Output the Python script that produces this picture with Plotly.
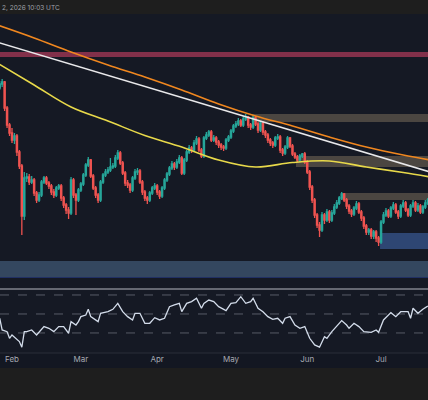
import pandas as pd
import plotly.graph_objects as go

# daily candles, first one on 2026-01-26
start = pd.Timestamp("2026-01-26")
first_open = 208
close = [212, 216, 218, 192, 175, 167, 160, 164, 148, 134, 84, 122, 123, 118, 120, 107, 100, 105, 118, 122,
         117, 114, 108, 105, 112, 114, 102, 95, 90, 87, 120, 105, 100, 110, 116, 125, 135, 140, 124, 112,
         105, 100, 118, 125, 128, 130, 133, 134, 142, 147, 137, 127, 117, 115, 110, 122, 128, 129, 118, 108,
         102, 100, 107, 112, 114, 108, 104, 112, 120, 126, 132, 136, 133, 138, 142, 127, 140, 148, 152, 150,
         157, 161, 150, 144, 162, 165, 168, 160, 162, 158, 155, 153, 152, 160, 163, 169, 174, 176, 179, 175,
         181, 183, 175, 173, 182, 176, 170, 177, 168, 165, 160, 157, 155, 162, 163, 150, 147, 153, 162, 154,
         146, 143, 140, 144, 146, 138, 128, 113, 100, 85, 75, 70, 85, 80, 88, 80, 87, 93, 97, 102,
         106, 100, 94, 89, 86, 92, 96, 88, 82, 74, 68, 70, 64, 68, 62, 58, 78, 85, 89, 84,
         92, 95, 88, 84, 94, 97, 90, 85, 94, 97, 90, 94, 88, 93, 97, 100]
high = [215, 219, 221, 219, 194, 177, 172, 167, 166, 150, 136, 128, 127, 126, 124, 122, 109, 108, 120, 124,
        124, 119, 116, 111, 114, 116, 116, 104, 97, 93, 123, 122, 107, 112, 118, 127, 137, 143, 141, 126,
        114, 107, 120, 127, 131, 133, 142, 137, 145, 150, 149, 139, 129, 120, 117, 124, 131, 132, 131, 120,
        110, 104, 109, 114, 117, 116, 110, 114, 122, 128, 134, 139, 138, 141, 145, 144, 142, 150, 155, 154,
        160, 164, 163, 152, 164, 168, 170, 170, 165, 164, 160, 157, 155, 162, 165, 171, 176, 179, 182, 181,
        184, 186, 184, 177, 185, 184, 178, 179, 179, 170, 167, 162, 159, 164, 166, 165, 152, 155, 164, 163,
        156, 148, 145, 146, 147, 148, 140, 130, 115, 102, 87, 78, 88, 87, 91, 90, 90, 96, 100, 104,
        108, 107, 102, 96, 91, 94, 99, 98, 90, 84, 76, 72, 72, 70, 70, 64, 80, 88, 92, 91,
        94, 98, 97, 90, 96, 100, 99, 92, 96, 100, 99, 97, 96, 95, 100, 102]
low = [205, 210, 213, 189, 172, 164, 157, 156, 144, 131, 65, 80, 118, 115, 116, 104, 97, 98, 103, 116,
       115, 111, 105, 102, 103, 110, 99, 92, 86, 81, 85, 102, 85, 98, 108, 114, 123, 133, 122, 110,
       102, 97, 98, 116, 123, 126, 128, 131, 132, 140, 135, 125, 114, 112, 107, 108, 120, 125, 116, 105,
       99, 96, 98, 105, 110, 105, 101, 102, 110, 118, 124, 130, 130, 131, 136, 125, 125, 138, 146, 147,
       148, 155, 148, 142, 142, 160, 163, 158, 158, 155, 152, 150, 149, 150, 158, 161, 167, 172, 174, 173,
       173, 179, 172, 170, 171, 174, 167, 168, 165, 162, 157, 154, 152, 153, 160, 147, 144, 145, 151, 152,
       144, 141, 138, 138, 142, 136, 126, 110, 97, 82, 72, 63, 68, 76, 78, 77, 78, 85, 91, 95,
       100, 98, 91, 86, 83, 84, 90, 86, 79, 71, 65, 65, 61, 61, 58, 54, 56, 76, 83, 82,
       82, 90, 86, 81, 82, 92, 88, 83, 83, 92, 88, 88, 86, 86, 91, 95]

# moving averages and trendline (day index, value)
ma_day = [0, 15, 30, 45, 60, 75, 90, 105, 120, 135, 150, 165, 176]
ma_orange = [275, 262, 248, 235, 223, 210, 196, 184, 174, 163, 153, 145, 140]
ma_yellow = [237, 215, 193, 179, 164.5, 153, 140, 133, 137.5, 139, 133, 127.5, 123]
trend_day = [0, 176]
trend_val = [257.8, 128]

# RSI (day index, value)
rsi_day = [1, 2, 4, 5, 6, 8, 9, 10, 11, 12, 14, 16, 18, 19, 21, 23, 25, 27, 29, 30,
           32, 33, 34, 36, 37, 38, 41, 42, 45, 47, 49, 51, 53, 55, 56, 58, 60, 62, 64, 66,
           68, 70, 72, 74, 75, 77, 79, 81, 83, 84, 86, 88, 90, 93, 95, 97, 99, 101, 103, 104,
           106, 108, 110, 112, 114, 116, 117, 119, 121, 123, 125, 127, 129, 131, 133, 134, 136, 138, 140, 142,
           143, 145, 147, 149, 152, 154, 155, 157, 160, 162, 164, 167, 168, 169, 171, 173, 175]
rsi = [45.5, 33.2, 31.4, 24.4, 27.9, 22.6, 20.9, 15.0, 31.4, 31.4, 33.2, 27.9, 33.2, 36.7, 34.9, 31.4, 36.7, 36.7, 29.7, 41.9,
       38.4, 41.9, 47.2, 48.9, 54.9, 47.2, 41.9, 50.7, 52.4, 54.9, 61.2, 52.4, 47.2, 43.7, 50.7, 50.7, 40.2, 40.2, 46.1, 43.7,
       45.5, 57.7, 59.5, 61.2, 52.4, 61.2, 63.0, 66.5, 56.0, 61.2, 64.7, 63.0, 57.7, 53.5, 61.2, 61.9, 68.2, 61.2, 63.0, 66.5,
       56.0, 52.4, 47.2, 44.4, 45.5, 40.2, 45.5, 47.2, 38.4, 34.9, 36.7, 24.4, 17.4, 15.0, 26.1, 24.4, 31.4, 36.7, 43.0, 38.4,
       34.9, 40.2, 36.7, 31.4, 30.7, 33.2, 30.7, 43.7, 51.4, 47.2, 52.4, 52.4, 45.5, 56.0, 50.7, 54.9, 58.4]
rsi_levels = [70, 50, 30]

# zones: start date (None = whole chart), low, high
zone_start = [None, "2026-05-09 12:00", "2026-05-27 10:00", "2026-06-14 17:00", "2026-06-30 14:00", None]
zone_low = [243, 178, 133, 100, 51, 23]
zone_high = [248, 186, 144, 107, 67, 39]
zone_color = ["#82304a", "#4b4641", "#4b4641", "#4b4641", "#2e4673", "#34475f"]

month_ticks = ["2026-02-01", "2026-03-01", "2026-04-01", "2026-05-01", "2026-06-01", "2026-07-01"]
month_text = ["Feb", "Mar", "Apr", "May", "Jun", "Jul"]

UP = "#26a69a"
DOWN = "#ef5350"
BG = "#151924"


def day(i):
    return start + pd.to_timedelta(i, unit="D")


dates = [day(i) for i in range(len(close))]
opens = [first_open] + close[:-1]

fig = go.Figure()
fig.add_trace(go.Candlestick(
    x=dates, open=opens, high=high, low=low, close=close,
    increasing=dict(line=dict(color=UP, width=1.3), fillcolor=UP),
    decreasing=dict(line=dict(color=DOWN, width=1.3), fillcolor=DOWN),
    whiskerwidth=0, showlegend=False, hoverinfo="skip"))
fig.add_trace(go.Scatter(x=[day(i) for i in trend_day], y=trend_val, mode="lines",
                         line=dict(color="#e8e8ea", width=1.6), showlegend=False))
fig.add_trace(go.Scatter(x=[day(i) for i in ma_day], y=ma_orange, mode="lines",
                         line=dict(color="#f0871f", width=1.6, shape="spline"), showlegend=False))
fig.add_trace(go.Scatter(x=[day(i) for i in ma_day], y=ma_yellow, mode="lines",
                         line=dict(color="#e8d94a", width=1.6, shape="spline"), showlegend=False))
fig.add_trace(go.Scatter(x=[day(i) for i in rsi_day], y=rsi, mode="lines", xaxis="x2", yaxis="y2",
                         line=dict(color="#d3dcea", width=1.3), showlegend=False))

shapes = [
    dict(type="rect", xref="paper", yref="paper", x0=0, x1=1, y0=0.08, y1=0.965,
         fillcolor=BG, line_width=0, layer="below"),
    dict(type="rect", xref="paper", yref="paper", x0=0, x1=1, y0=0.08, y1=0.1175,
         fillcolor="#131722", line_width=0, layer="below"),
]
for s, lo, hi, col in zip(zone_start, zone_low, zone_high, zone_color):
    shapes.append(dict(type="rect", xref="x", yref="y",
                       x0=s if s else "2026-01-01", x1="2026-08-31", y0=lo, y1=hi,
                       fillcolor=col, line_width=0, layer="below"))
# blue edge under the lower zone
shapes.append(dict(type="line", xref="paper", yref="y", x0=0, x1=1, y0=zone_low[-1], y1=zone_low[-1],
                   line=dict(color="#26397a", width=1.5), layer="below"))
for lv in rsi_levels:
    shapes.append(dict(type="line", xref="paper", yref="y2", x0=0, x1=1, y0=lv, y1=lv,
                       line=dict(color="#575b66", width=1, dash="dash"), layer="below"))
# pane separator and bottom border
shapes.append(dict(type="line", xref="paper", yref="paper", x0=0, x1=1, y0=1 - 289 / 400, y1=1 - 289 / 400,
                   line=dict(color="#80838c", width=1.5)))
shapes.append(dict(type="line", xref="paper", yref="paper", x0=0, x1=1, y0=1 - 353 / 400, y1=1 - 353 / 400,
                   line=dict(color="#2a2e39", width=1)))

xr = ["2026-01-27 03:00", "2026-07-20 02:00"]
fig.update_layout(
    width=428, height=400, margin=dict(l=0, r=0, t=0, b=0),
    paper_bgcolor="#1e1e1e", plot_bgcolor=BG,
    shapes=shapes,
    xaxis=dict(domain=[0, 1], range=xr, anchor="y", showgrid=False, zeroline=False,
               showticklabels=False, rangeslider=dict(visible=False), fixedrange=True),
    yaxis=dict(domain=[1 - 283 / 400, 1 - 14 / 400], range=[17, 286], showgrid=False,
               zeroline=False, showticklabels=False, fixedrange=True),
    xaxis2=dict(domain=[0, 1], range=xr, anchor="y2", matches="x", showgrid=False, zeroline=False,
                tickvals=month_ticks, ticktext=month_text, ticks="",
                tickfont=dict(family="Inter", size=8, color="#a6a9b1")),
    yaxis2=dict(domain=[1 - 353 / 400, 1 - 289 / 400], range=[8.9, 76.3], showgrid=False,
                zeroline=False, showticklabels=False, fixedrange=True),
    annotations=[dict(text="2, 2026 10:03 UTC", xref="paper", yref="paper", x=0, y=1 - 8 / 400,
                      xanchor="left", yanchor="middle", showarrow=False,
                      font=dict(family="Inter", size=6.5, color="#a0a3ab"))],
)

# drop the page's default body margin so the figure sits at the window corner
fig.write_html("out.html", config={"displayModeBar": False},
               post_script="document.body.style.margin='0';document.body.style.overflow='hidden';")
